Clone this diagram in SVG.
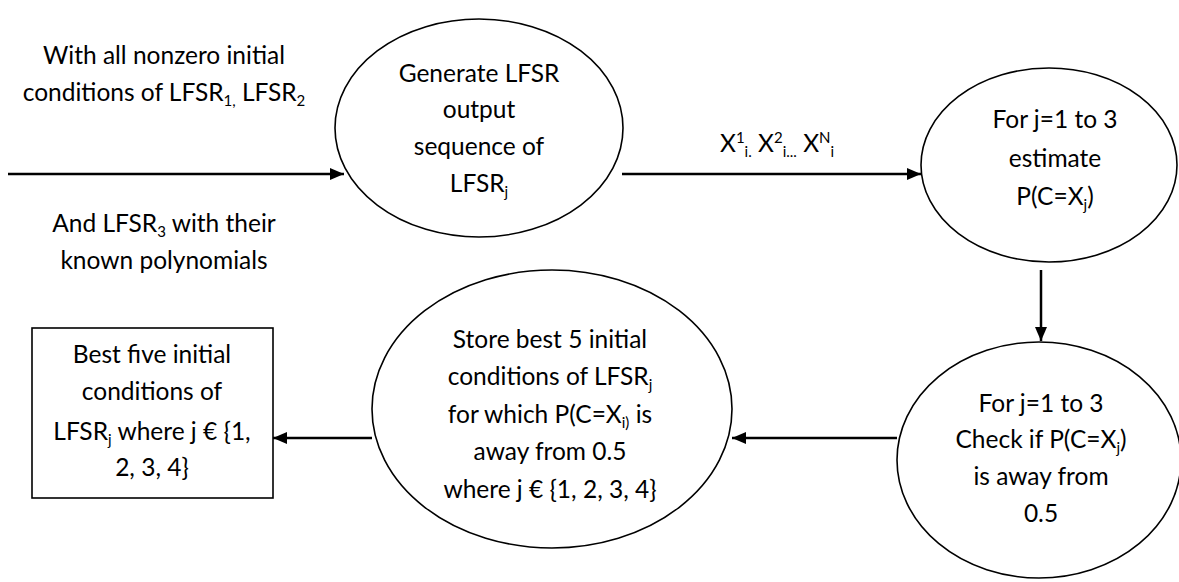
<svg xmlns="http://www.w3.org/2000/svg" width="1179" height="582" viewBox="0 0 1179 582">
  <style>
    .shape { fill: #ffffff; stroke: #000000; stroke-width: 1.6; }
    .edge { fill: none; stroke: #000000; stroke-width: 2.5; }
    text { font-family: Lato, "Open Sans", "Liberation Sans", sans-serif; font-size: 24.5px; fill: #000000; text-anchor: middle; }
    .sub { font-size: 15px; }
  </style>
  <defs>
    <marker id="arrow" viewBox="0 0 14 12" refX="14" refY="6" markerWidth="14" markerHeight="12" markerUnits="userSpaceOnUse" orient="auto">
      <path d="M0,0 L14,6 L0,12 Z" fill="#000000"/>
    </marker>
  </defs>

  <!-- free-standing input description -->
  <g id="input-label">
    <text x="164" y="64">With all nonzero initial</text>
    <text x="164" y="101">conditions of LFSR<tspan class="sub" dy="5">1,</tspan><tspan dy="-5"> LFSR</tspan><tspan class="sub" dy="5">2</tspan></text>
    <text x="164" y="232">And LFSR<tspan class="sub" dy="5">3</tspan><tspan dy="-5"> with their</tspan></text>
    <text x="164" y="269">known polynomials</text>
  </g>

  <g id="node-generate">
    <ellipse class="shape" cx="479" cy="128" rx="144" ry="109"/>
    <text x="479" y="82">Generate LFSR</text>
    <text x="479" y="118">output</text>
    <text x="479" y="155">sequence of</text>
    <text x="479" y="192">LFSR<tspan class="sub" dy="5">j</tspan></text>
  </g>

  <g id="node-estimate">
    <ellipse class="shape" cx="1049" cy="165" rx="128" ry="97"/>
    <text x="1055" y="128">For j=1 to 3</text>
    <text x="1055" y="167">estimate</text>
    <text x="1055" y="205">P(C=X<tspan class="sub" dy="5">j</tspan><tspan dy="-5">)</tspan></text>
  </g>

  <g id="node-check">
    <ellipse class="shape" cx="1039" cy="460" rx="142" ry="118"/>
    <text x="1041" y="412">For j=1 to 3</text>
    <text x="1041" y="448">Check if P(C=X<tspan class="sub" dy="5">j</tspan><tspan dy="-5">)</tspan></text>
    <text x="1041" y="485">is away from</text>
    <text x="1041" y="522">0.5</text>
  </g>

  <g id="node-store">
    <ellipse class="shape" cx="552" cy="409" rx="180" ry="139"/>
    <text x="550" y="348">Store best 5 initial</text>
    <text x="550" y="385">conditions of LFSR<tspan class="sub" dy="5">j</tspan></text>
    <text x="550" y="423">for which P(C=X<tspan class="sub" dy="5">i)</tspan><tspan dy="-5"> is</tspan></text>
    <text x="550" y="460">away from 0.5</text>
    <text x="550" y="498">where j € {1, 2, 3, 4}</text>
  </g>

  <g id="node-result">
    <rect class="shape" x="32" y="328" width="241" height="170"/>
    <text x="152" y="363">Best five initial</text>
    <text x="152" y="400">conditions of</text>
    <text x="152" y="440">LFSR<tspan class="sub" dy="5">j</tspan><tspan dy="-5"> where j € {1,</tspan></text>
    <text x="152" y="476">2, 3, 4}</text>
  </g>

  <g id="connectors">
    <line class="edge" x1="8" y1="174" x2="344" y2="174" marker-end="url(#arrow)"/>
    <line class="edge" x1="622" y1="174" x2="921" y2="174" marker-end="url(#arrow)"/>
    <line class="edge" x1="1041" y1="270" x2="1041" y2="341" marker-end="url(#arrow)"/>
    <line class="edge" x1="897" y1="438" x2="732" y2="438" marker-end="url(#arrow)"/>
    <line class="edge" x1="372" y1="438" x2="273" y2="438" marker-end="url(#arrow)"/>
  </g>

  <!-- sequence label on the generate -> estimate connector -->
  <g id="edge-label">
    <text x="777" y="152">X<tspan class="sub" dy="-9">1</tspan><tspan class="sub" dy="14">i.</tspan><tspan dy="-5"> X</tspan><tspan class="sub" dy="-9">2</tspan><tspan class="sub" dy="14">i...</tspan><tspan dy="-5"> X</tspan><tspan class="sub" dy="-9">N</tspan><tspan class="sub" dy="14">i</tspan></text>
  </g>
</svg>
